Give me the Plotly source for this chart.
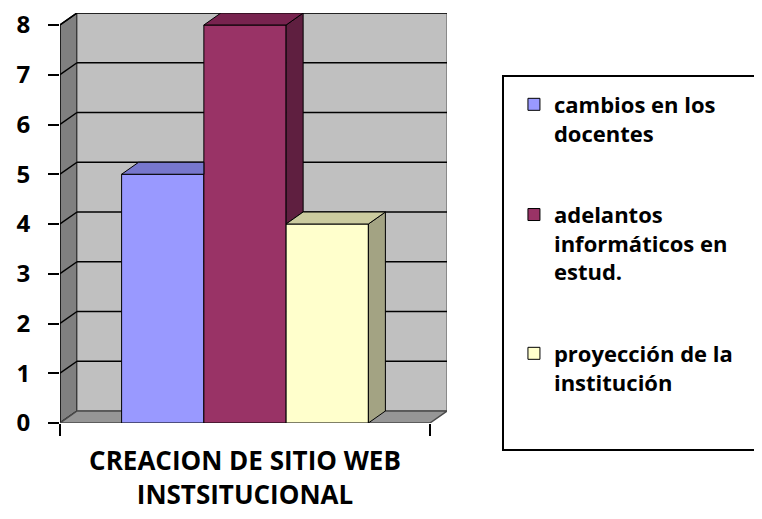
import plotly.graph_objects as go

# ---- data ----
category_label = "CREACION DE SITIO WEB<br>INSTSITUCIONAL"
series_names = [
    "cambios en los<br>docentes",
    "adelantos<br>informáticos en<br>estud.",
    "proyección de la<br>institución",
]
series_values = [5, 8, 4]
y_ticks = [0, 1, 2, 3, 4, 5, 6, 7, 8]

# ---- styles ----
front_colors = ["#9999FF", "#993366", "#FFFFCC"]
top_colors = ["#7777CC", "#78234F", "#CBCB9F"]
side_colors = ["#5F5FA8", "#5F1F40", "#A3A383"]
FONT = "Open Sans"

bargap = 0.333
w = (1 - bargap) / 3          # width of each bar in axis units
DX = 0.046                    # depth offset (x units)
DY = 0.2412                   # depth offset (y units)
YMAX = max(y_ticks)

fig = go.Figure()

# front faces: real bar traces
for name, val, col in zip(series_names, series_values, front_colors):
    fig.add_trace(go.Bar(
        x=[0], y=[val], name=name,
        marker=dict(color=col, line=dict(color="black", width=1)),
        legendgroup=name,
    ))

# 3-D top and side faces derived from the values
n = len(series_values)
for i, (val, tc, sc) in enumerate(zip(series_values, top_colors, side_colors)):
    xc = (i - (n - 1) / 2) * w
    x0, x1 = xc - w / 2, xc + w / 2
    nxt = series_values[i + 1] if i + 1 < n else None
    hidden_right = nxt is not None and nxt >= val
    # side face
    if not hidden_right:
        bottom = 0 if nxt is None else nxt
        fig.add_trace(go.Scatter(
            x=[x1, x1 + DX, x1 + DX, x1, x1],
            y=[bottom, bottom + DY, val + DY, val, bottom],
            fill="toself", fillcolor=sc, mode="lines",
            line=dict(color="black", width=1),
            hoverinfo="skip", showlegend=False,
        ))
    # top face
    xr = x1 if hidden_right else x1 + DX
    fig.add_trace(go.Scatter(
        x=[x0, x0 + DX, xr, x1, x0],
        y=[val, val + DY, val + DY, val, val],
        fill="toself", fillcolor=tc, mode="lines",
        line=dict(color="black", width=1),
        hoverinfo="skip", showlegend=False,
    ))

# ---- walls / floor (decoration) ----
shapes = []
L, R = -0.5, 0.5
shapes.append(dict(type="path", layer="below",
                   path=f"M{L},0 L{L+DX},{DY} L{L+DX},{YMAX+DY} L{L},{YMAX} Z",
                   fillcolor="#808080", line=dict(color="black", width=1.5)))
shapes.append(dict(type="rect", layer="below", x0=L + DX, x1=R + DX, y0=DY, y1=YMAX + DY,
                   fillcolor="#C0C0C0", line=dict(color="#555555", width=1)))
shapes.append(dict(type="path", layer="below",
                   path=f"M{L},0 L{R},0 L{R+DX},{DY} L{L+DX},{DY} Z",
                   fillcolor="#969696", line=dict(color="#4a4a4a", width=1.5)))
for v in y_ticks[1:]:
    shapes.append(dict(type="line", layer="below", x0=L + DX, x1=R + DX, y0=v + DY, y1=v + DY,
                       line=dict(color="black", width=1.5)))
    shapes.append(dict(type="line", layer="below", x0=L, x1=L + DX, y0=v, y1=v + DY,
                       line=dict(color="black", width=1.5)))
# legend frame (its right edge runs past the page edge, as in the original)
shapes.append(dict(type="rect", xref="paper", yref="paper",
                   x0=1.1447, x1=1.86, y0=-0.0659, y1=0.8463,
                   line=dict(color="black", width=2), fillcolor="rgba(0,0,0,0)"))

fig.update_layout(
    width=762, height=511,
    margin=dict(l=52, r=323, t=5, b=96, autoexpand=False),
    paper_bgcolor="white", plot_bgcolor="white",
    barmode="group", bargap=bargap, bargroupgap=0,
    showlegend=True,
    shapes=shapes,
    legend=dict(
        x=1.173, y=0.828, xanchor="left", yanchor="top",
        bgcolor="rgba(0,0,0,0)", borderwidth=0,
        font=dict(family=FONT, size=22, color="black", weight="bold"),
        valign="top", tracegroupgap=50, traceorder="grouped",
    ),
    xaxis=dict(
        range=[L, R + DX], tickmode="array", tickvals=[0], ticktext=[category_label],
        ticks="", showline=False, showgrid=False, zeroline=False, automargin=False,
        ticklabelstandoff=20, ticklabeloverflow="allow",
        tickfont=dict(family=FONT, size=26, color="black", weight="bold"),
        minor=dict(tickmode="array", tickvals=[L, R], ticks="outside", ticklen=12,
                   tickwidth=2, tickcolor="black", showgrid=False),
    ),
    yaxis=dict(
        range=[0, YMAX + DY], tickmode="array", tickvals=y_ticks,
        ticks="outside", ticklen=11, tickwidth=2, tickcolor="black",
        showline=False, showgrid=False, zeroline=False, automargin=False,
        ticklabelstandoff=13, ticklabeloverflow="allow",
        tickfont=dict(family=FONT, size=24, color="black", weight="bold"),
    ),
)

fig.write_html("out.html")
